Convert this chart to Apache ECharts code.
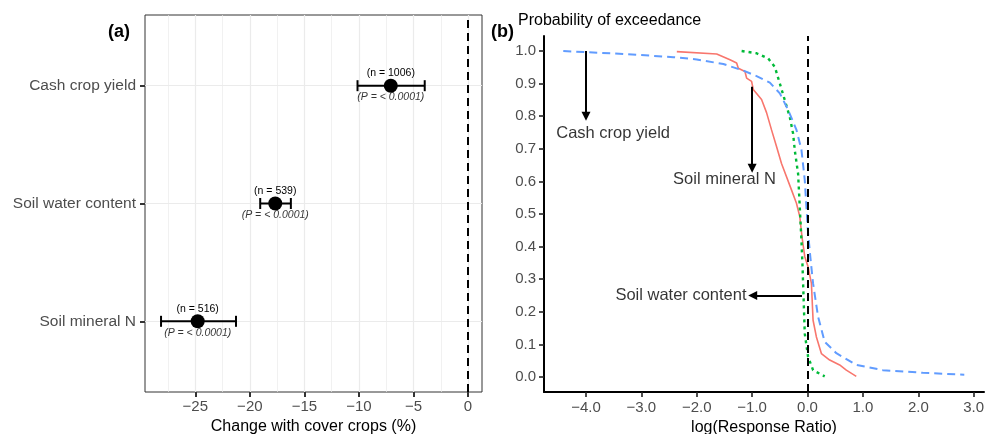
<!DOCTYPE html>
<html>
<head>
<meta charset="utf-8">
<script src="https://cdn.jsdelivr.net/npm/echarts@6/dist/echarts.min.js"></script>
<style>
  html, body { margin: 0; padding: 0; background: #fff; }
  #main { width: 985px; height: 434px; }
</style>
</head>
<body>
<div id="main"></div>
<script>
// ---- panel (a): mean change with cover crops ----
const outcomes = ['Soil mineral N', 'Soil water content', 'Cash crop yield'];
const meanChange = [-24.78, -17.67, -7.08];
const lowerCI = [-28.14, -19.05, -10.13];
const upperCI = [-21.27, -16.24, -3.97];
const nObs = [516, 539, 1006];
const pText = ['< 0.0001', '< 0.0001', '< 0.0001'];
const aTicks = [-25, -20, -15, -10, -5, 0];
const aMinor = [-27.5, -22.5, -17.5, -12.5, -7.5, -2.5];

// ---- panel (b): probability of exceedance ----
const cashYield = [
  [-4.41, 1.0], [-3.33, 0.991], [-2.42, 0.981], [-2.0, 0.974], [-1.52, 0.960],
  [-1.16, 0.940], [-0.92, 0.923], [-0.68, 0.903], [-0.50, 0.870], [-0.35, 0.819],
  [-0.20, 0.758], [-0.11, 0.697], [-0.05, 0.604], [-0.02, 0.522], [0.01, 0.441],
  [0.05, 0.369], [0.10, 0.287], [0.19, 0.185], [0.31, 0.108], [0.52, 0.073],
  [0.88, 0.037], [1.36, 0.021], [2.08, 0.013], [2.83, 0.007]
];
const soilMineralN = [
  [-2.36, 0.998], [-1.64, 0.991], [-1.40, 0.973], [-1.28, 0.963], [-1.25, 0.947],
  [-1.13, 0.937], [-1.10, 0.917], [-1.01, 0.907], [-0.98, 0.882], [-0.83, 0.851],
  [-0.74, 0.811], [-0.65, 0.758], [-0.56, 0.707], [-0.47, 0.655], [-0.29, 0.574],
  [-0.20, 0.533], [-0.14, 0.492], [-0.10, 0.430], [-0.05, 0.369], [0.01, 0.338],
  [0.07, 0.287], [0.10, 0.174], [0.16, 0.123], [0.25, 0.072], [0.40, 0.052],
  [0.58, 0.037], [0.70, 0.021], [0.88, 0.002]
];
const soilWater = [
  [-1.19, 1.0], [-0.92, 0.993], [-0.71, 0.977], [-0.59, 0.951], [-0.50, 0.900],
  [-0.41, 0.849], [-0.32, 0.797], [-0.26, 0.746], [-0.23, 0.695], [-0.17, 0.623],
  [-0.14, 0.521], [-0.11, 0.419], [-0.09, 0.338], [-0.07, 0.236], [-0.05, 0.133],
  [0.01, 0.062], [0.10, 0.021], [0.31, 0.002]
];
const bTicksX = [-4, -3, -2, -1, 0, 1, 2, 3];
const bTicksY = [0, 0.1, 0.2, 0.3, 0.4, 0.5, 0.6, 0.7, 0.8, 0.9, 1.0];
const noteText = ['Cash crop yield', 'Soil mineral N', 'Soil water content'];
const noteAt = [[-3.51, 0.748], [-1.5, 0.607], [-2.285, 0.249]];
const arrowFrom = [[-4.0, 1.0], [-1.0, 0.89], [-0.1, 0.25]];
const arrowTo = [[-4.0, 0.8], [-1.0, 0.64], [-0.99, 0.25]];

const FONT = '"Liberation Sans", Arial, sans-serif';
const minus = s => String(s).replace('-', '\u2212');

const chart = echarts.init(document.getElementById('main'));

const option = {
  backgroundColor: '#ffffff',
  animation: false,
  textStyle: { fontFamily: FONT },
  title: [
    { text: '(a)', left: 108, top: 23, padding: 0,
      textStyle: { fontSize: 18, fontWeight: 'bold', color: '#000', fontFamily: FONT } },
    { text: '(b)', left: 491, top: 23, padding: 0,
      textStyle: { fontSize: 18, fontWeight: 'bold', color: '#000', fontFamily: FONT } },
    { text: 'Probability of exceedance', left: 518, top: 13, padding: 0,
      textStyle: { fontSize: 16, fontWeight: 'normal', color: '#000', fontFamily: FONT } }
  ],
  grid: [
    { left: 145, top: 15, width: 337, height: 377, show: true,
      borderColor: '#333', borderWidth: 1, backgroundColor: 'transparent',
      outerBoundsMode: 'none', containLabel: false },
    { left: 544, top: 36, width: 440, height: 356,
      outerBoundsMode: 'none', containLabel: false }
  ],
  xAxis: [
    {
      gridIndex: 0, type: 'value', min: -29.61, max: 1.28,
      name: 'Change with cover crops (%)', nameLocation: 'middle', nameGap: 26,
      nameTextStyle: { fontSize: 16, color: '#000', fontFamily: FONT },
      axisLine: { show: false, onZero: false },
      axisTick: { show: true, inside: false, customValues: aTicks, length: 5,
        lineStyle: { color: '#333', width: 2 } },
      axisLabel: { customValues: aTicks, margin: 7, fontSize: 15, color: '#4d4d4d',
        fontFamily: FONT, formatter: v => minus(v) },
      splitLine: { show: true, lineStyle: { color: '#ebebeb', width: 1.2 } }
    },
    {
      gridIndex: 1, type: 'value', min: -4.758, max: 3.186,
      name: 'log(Response Ratio)', nameLocation: 'middle', nameGap: 26,
      nameTextStyle: { fontSize: 16, color: '#000', fontFamily: FONT },
      axisLine: { show: true, onZero: false, lineStyle: { color: '#000', width: 2 } },
      axisTick: { show: true, inside: false, customValues: bTicksX, length: 5,
        lineStyle: { color: '#222', width: 1.6 } },
      axisLabel: { customValues: bTicksX, margin: 8, fontSize: 15, color: '#4d4d4d',
        fontFamily: FONT, formatter: v => minus(v.toFixed(1)) },
      splitLine: { show: false }
    }
  ],
  yAxis: [
    {
      gridIndex: 0, type: 'value', min: 0.4, max: 3.6,
      axisLine: { show: false, onZero: false },
      axisTick: { show: true, inside: false, customValues: [1, 2, 3], length: 5,
        lineStyle: { color: '#333', width: 2 } },
      axisLabel: { customValues: [1, 2, 3], margin: 9, fontSize: 15.5, color: '#4d4d4d',
        fontFamily: FONT, formatter: v => outcomes[Math.round(v) - 1] },
      splitLine: { show: true, lineStyle: { color: '#ebebeb', width: 1.2 } }
    },
    {
      gridIndex: 1, type: 'value', min: -0.046, max: 1.046,
      axisLine: { show: true, onZero: false, lineStyle: { color: '#000', width: 2 } },
      axisTick: { show: true, inside: false, customValues: bTicksY, length: 5,
        lineStyle: { color: '#222', width: 1.6 } },
      axisLabel: { customValues: bTicksY, margin: 8, fontSize: 15, color: '#4d4d4d',
        fontFamily: FONT, formatter: v => v.toFixed(1) },
      splitLine: { show: false }
    }
  ],
  series: [
    // minor grid lines for panel (a)
    {
      type: 'scatter', xAxisIndex: 0, yAxisIndex: 0, data: [], z: 1, silent: true,
      markLine: {
        silent: true, symbol: ['none', 'none'], animation: false,
        label: { show: false },
        lineStyle: { color: '#ebebeb', width: 0.7, type: 'solid' },
        data: aMinor.map(v => ({ xAxis: v }))
      }
    },
    // zero reference line for panel (a)
    {
      type: 'scatter', xAxisIndex: 0, yAxisIndex: 0, data: [], z: 2, silent: true,
      markLine: {
        silent: true, symbol: ['none', 'none'], animation: false,
        label: { show: false },
        lineStyle: { color: '#000', width: 2, type: [8, 5] },
        data: [{ xAxis: 0 }]
      }
    },
    // error bars
    {
      type: 'custom', xAxisIndex: 0, yAxisIndex: 0, z: 5,
      data: outcomes.map((o, i) => [lowerCI[i], upperCI[i], i + 1]),
      encode: { x: [0, 1], y: 2 },
      renderItem: (params, api) => {
        const lo = api.coord([api.value(0), api.value(2)]);
        const hi = api.coord([api.value(1), api.value(2)]);
        const cap = 5.5;
        const style = { stroke: '#000', lineWidth: 2 };
        return {
          type: 'group',
          children: [
            { type: 'line', shape: { x1: lo[0], y1: lo[1], x2: hi[0], y2: hi[1] }, style },
            { type: 'line', shape: { x1: lo[0], y1: lo[1] - cap, x2: lo[0], y2: lo[1] + cap }, style },
            { type: 'line', shape: { x1: hi[0], y1: hi[1] - cap, x2: hi[0], y2: hi[1] + cap }, style }
          ]
        };
      }
    },
    // mean points with n label above
    {
      type: 'scatter', xAxisIndex: 0, yAxisIndex: 0, z: 6,
      symbol: 'circle', symbolSize: 14,
      itemStyle: { color: '#000', opacity: 1 },
      data: meanChange.map((v, i) => [v, i + 1, nObs[i]]),
      label: {
        show: true, position: 'top', distance: 0,
        fontSize: 10.5, color: '#000', fontFamily: FONT,
        formatter: p => '(n = ' + p.value[2] + ')'
      }
    },
    // P value label below
    {
      type: 'scatter', xAxisIndex: 0, yAxisIndex: 0, z: 6,
      symbol: 'circle', symbolSize: 14,
      itemStyle: { color: 'transparent' },
      data: meanChange.map((v, i) => [v, i + 1, pText[i]]),
      label: {
        show: true, position: 'bottom', distance: -1,
        fontSize: 10.5, fontStyle: 'italic', color: '#000', fontFamily: FONT,
        formatter: p => '(P = ' + p.value[2] + ')'
      }
    },
    // panel (b) curves
    {
      name: 'Soil mineral N', type: 'line', xAxisIndex: 1, yAxisIndex: 1, z: 3,
      data: soilMineralN, showSymbol: false,
      lineStyle: { color: '#F8766D', width: 1.6 }
    },
    {
      name: 'Soil water content', type: 'line', xAxisIndex: 1, yAxisIndex: 1, z: 3,
      data: soilWater, showSymbol: false,
      lineStyle: { color: '#00BA38', width: 2.4, type: [3, 4] }
    },
    {
      name: 'Cash crop yield', type: 'line', xAxisIndex: 1, yAxisIndex: 1, z: 4,
      data: cashYield, showSymbol: false,
      lineStyle: { color: '#619CFF', width: 2, type: [8, 5] }
    },
    // annotation text for panel (b)
    {
      type: 'scatter', xAxisIndex: 1, yAxisIndex: 1, z: 5,
      symbolSize: 0,
      data: noteAt.map((p, i) => ({ value: p, name: noteText[i] })),
      label: {
        show: true, position: 'inside', fontSize: 16.5, color: '#000', fontFamily: FONT,
        formatter: '{b}'
      }
    },
    // annotation arrows for panel (b)
    {
      type: 'line', xAxisIndex: 1, yAxisIndex: 1, z: 5, data: [], silent: true,
      markLine: {
        silent: true, animation: false,
        symbol: ['none', 'triangle'], symbolSize: 9,
        itemStyle: { color: '#000' },
        label: { show: false },
        lineStyle: { color: '#000', width: 2, type: 'solid' },
        data: arrowFrom.map((f, i) => [{ coord: f }, { coord: arrowTo[i] }])
      }
    },
    // zero reference line for panel (b)
    {
      type: 'scatter', xAxisIndex: 1, yAxisIndex: 1, data: [], z: 6, silent: true,
      markLine: {
        silent: true, symbol: ['none', 'none'], animation: false,
        label: { show: false },
        lineStyle: { color: '#000', width: 2, type: [8, 5] },
        data: [{ xAxis: 0 }]
      }
    }
  ]
};

chart.setOption(option);
</script>
</body>
</html>
